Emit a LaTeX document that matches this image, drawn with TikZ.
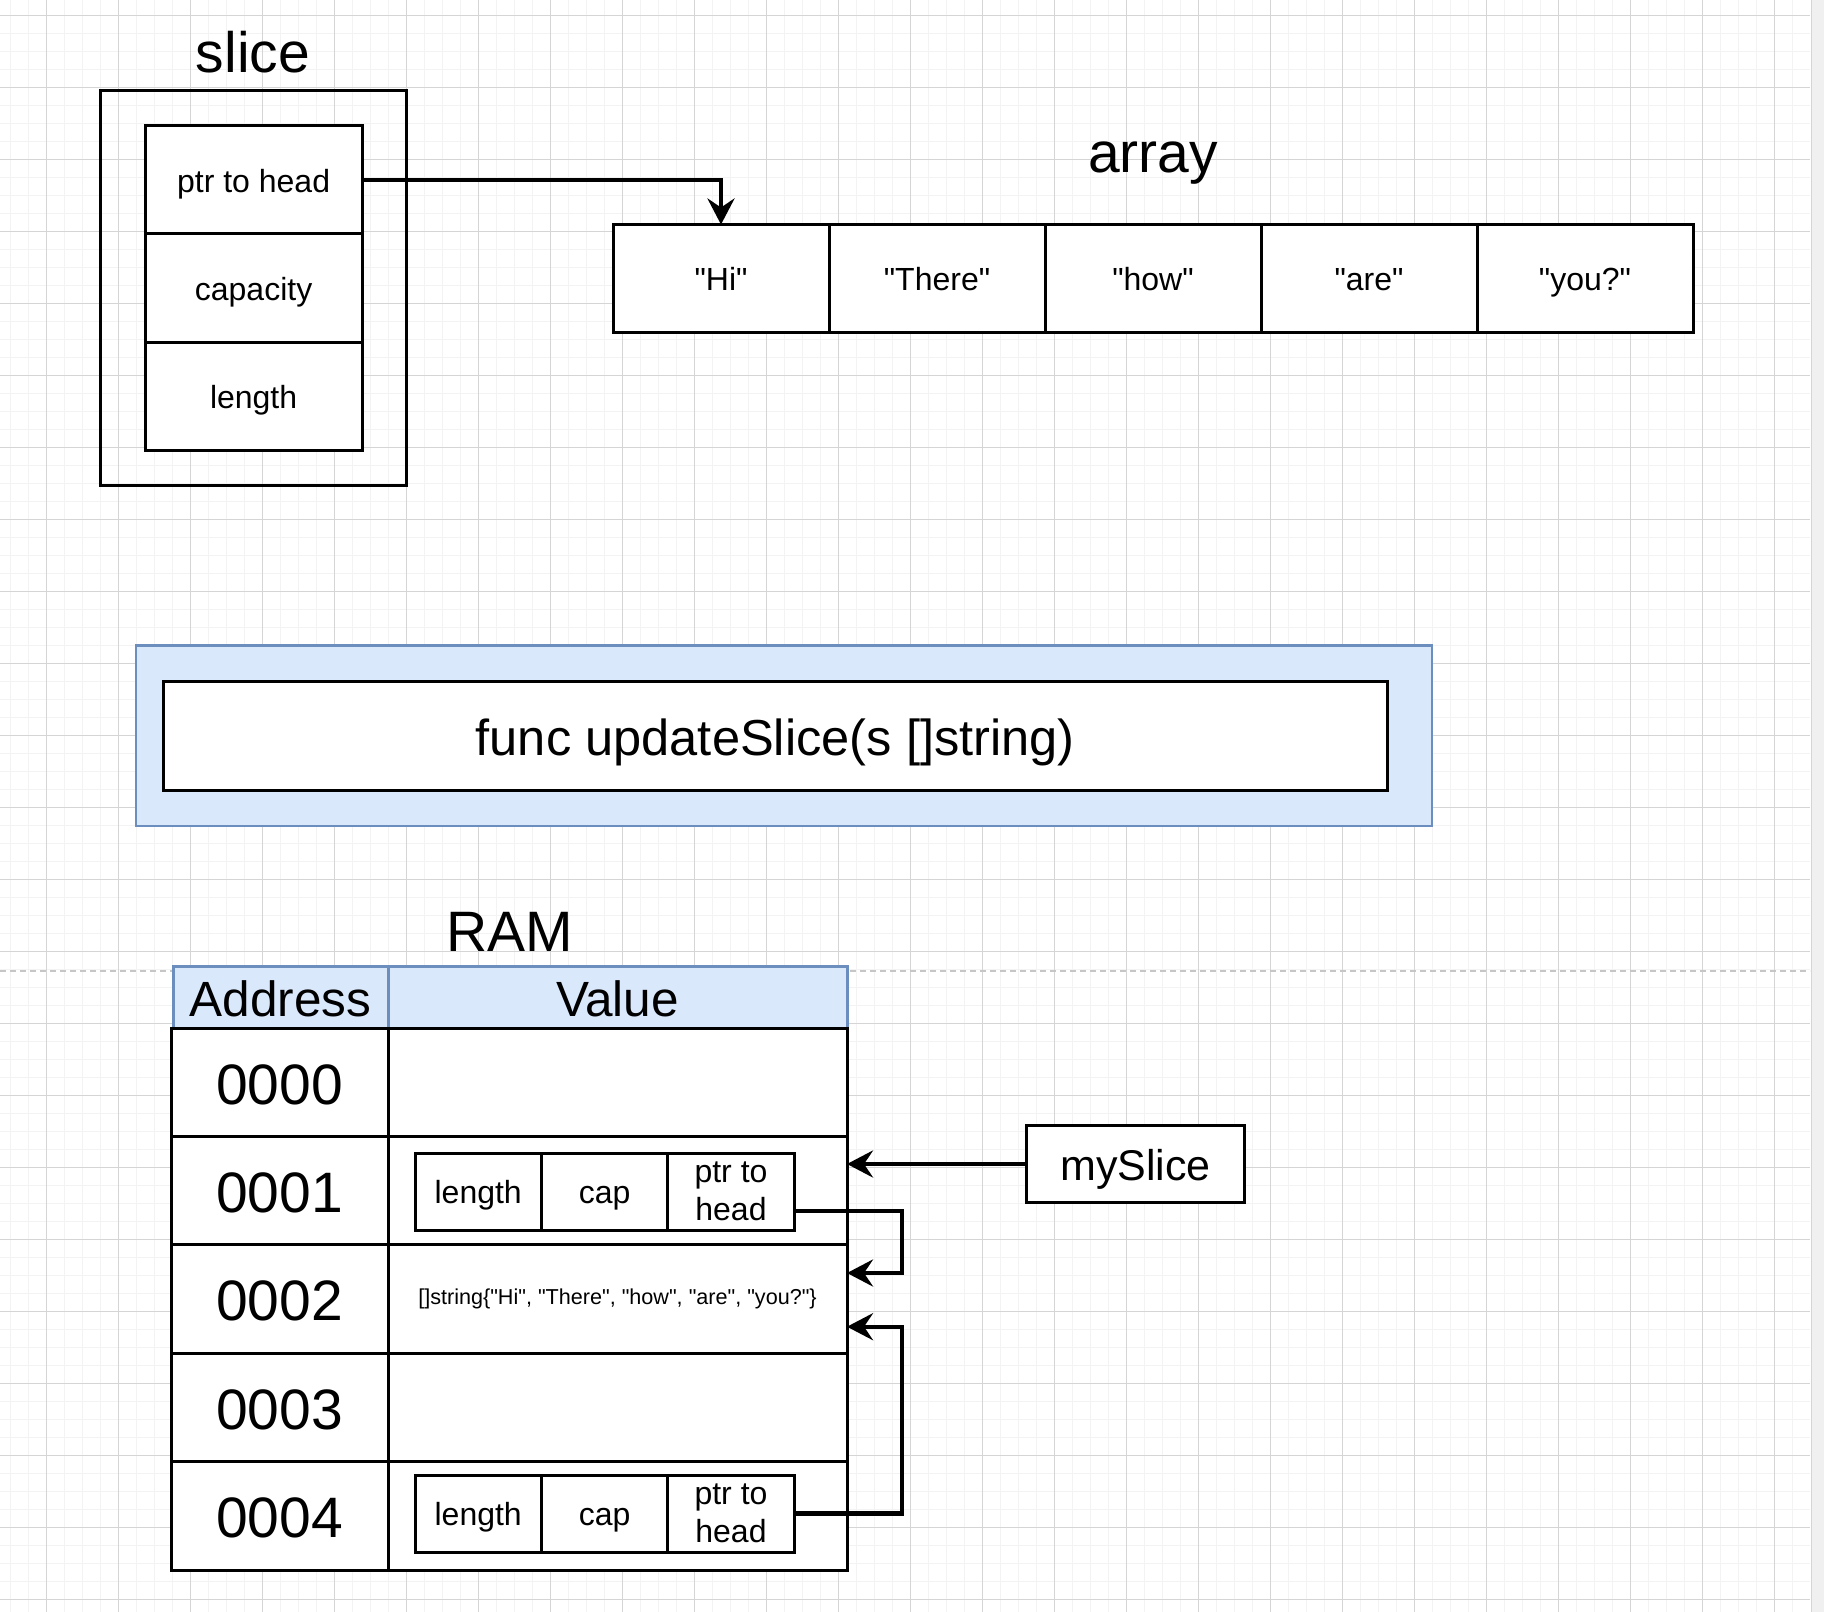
\documentclass[tikz,border=0pt]{standalone}
\usepackage{fontspec}
\setmainfont{Liberation Sans}[Ligatures=TeXOff]
\usetikzlibrary{arrows.meta,positioning,fit}

\definecolor{blueFill}{HTML}{DAE8FC}
\definecolor{blueLine}{HTML}{6C8EBF}
\definecolor{gridMajor}{HTML}{D5D5D5}
\definecolor{gridMinor}{HTML}{F3F3F3}
\definecolor{breakLine}{HTML}{C6C6C6}
\definecolor{stripGray}{HTML}{F0F0F0}

\tikzset{
	box/.style={draw, line width=3pt, fill=white, outer sep=0pt, inner sep=0pt},
	title/.style={anchor=base, font=\fontsize{57}{68}\selectfont},
	cell/.style={box, font=\fontsize{32}{38.4}\selectfont, text height=24.6pt, text depth=0pt},
	arr/.style={cell, minimum width=216pt, minimum height=108pt},
	slot/.style={cell, minimum width=217pt, minimum height=108.2pt},
	part/.style={cell, minimum width=126.4pt, minimum height=77pt},
	ptrpart/.style={box, font=\fontsize{32}{38.4}\selectfont, align=center, minimum width=126.4pt, minimum height=77pt},
	head/.style={box, draw=blueLine, fill=blueFill, font=\fontsize{49.5}{59}\selectfont, text height=38pt, text depth=0pt, minimum height=62pt},
	addr/.style={box, font=\fontsize{57}{68}\selectfont, text height=43.9pt, text depth=0pt, minimum width=217pt, minimum height=108.4pt},
	val/.style={box, minimum width=459pt, minimum height=108.4pt},
	link/.style={line width=4.3pt, -{Stealth[length=26pt, width=27pt, inset=9pt]}}
}

\begin{document}
\begin{tikzpicture}[x=1pt,y=-1pt]
	\useasboundingbox (0,0) rectangle (1824,1612);
	\fill[white] (0,0) rectangle (1824,1612);
	\foreach \x in {10.3,28.3,...,1810} \draw[gridMinor, line width=1.6pt] (\x,0) -- (\x,1612);
	\foreach \y in {-2.7,15.3,...,1620} \draw[gridMinor, line width=1.6pt] (0,\y) -- (1810,\y);
	\foreach \x in {46.3,118.3,...,1810} \draw[gridMajor, line width=1pt] (\x,0) -- (\x,1612);
	\foreach \y in {15.3,87.3,...,1620} \draw[gridMajor, line width=1pt] (0,\y) -- (1810,\y);
	\fill[stripGray] (1811,0) rectangle (1824,1612);
	\draw[gridMajor, line width=1pt] (1811,0) -- (1811,1612);
	\draw[breakLine, line width=1.5pt, dash pattern=on 6pt off 4pt] (0,971) -- (1810,971);

	\node[title] (sliceT) at (253,72) {slice};
	\node[slot] (ptr) at (253.6,179.7) {ptr to head};
	\node[slot, below=0pt of ptr] (cap) {capacity};
	\node[slot, below=0pt of cap] (len) {length};
	\node[draw, line width=3pt, inner xsep=44.5pt, inner ysep=35.5pt, fit=(ptr)(len)] (sliceBox) {};

	\node[title] (arrayT) at (1153,172) {array};
	\node[arr] (hi) at (721,278.5) {"Hi"};
	\node[arr, right=0pt of hi] (there) {"There"};
	\node[arr, right=0pt of there] (how) {"how"};
	\node[arr, right=0pt of how] (are) {"are"};
	\node[arr, right=0pt of are] (you) {"you?"};

	\draw[link] (ptr.east) -| (hi.north);

	\node[box, draw=blueLine, fill=blueFill, line width=2.5pt, minimum width=1296pt, minimum height=180.5pt] (funcBox) at (784,735.8) {};
	\node[box, font=\fontsize{50.6}{61}\selectfont, text height=39pt, text depth=0pt, minimum width=1224.5pt, minimum height=108.5pt] (func) at (775.3,735.8) {func updateSlice(s []string)};

	\node[title] (ramT) at (510,951) {RAM};
	\node[head, minimum width=215pt] (hAddr) at (280.5,997) {Address};
	\node[head, minimum width=459pt, right=0pt of hAddr] (hVal) {Value};

	\node[addr] (a0) at (279.5,1082.2) {0000};
	\node[addr, below=0pt of a0] (a1) {0001};
	\node[addr, below=0pt of a1] (a2) {0002};
	\node[addr, below=0pt of a2] (a3) {0003};
	\node[addr, below=0pt of a3] (a4) {0004};
	\node[val, right=0pt of a0] (v0) {};
	\node[val, right=0pt of a1] (v1) {};
	\node[val, right=0pt of a2, font=\fontsize{21.6}{26}\selectfont] (v2) {[]string\{"Hi", "There", "how", "are", "you?"\}};
	\node[val, right=0pt of a3] (v3) {};
	\node[val, right=0pt of a4] (v4) {};

	\node[part] (len1) at (478.2,1191.5) {length};
	\node[part, right=0pt of len1] (cap1) {cap};
	\node[ptrpart, right=0pt of cap1] (ptr1) {ptr to\\head};
	\node[part] (len4) at (478.2,1513.5) {length};
	\node[part, right=0pt of len4] (cap4) {cap};
	\node[ptrpart, right=0pt of cap4] (ptr4) {ptr to\\head};

	\node[box, font=\fontsize{43}{51}\selectfont, text height=33pt, text depth=0pt, minimum width=217.6pt, minimum height=77pt] (mySlice) at (1135.5,1164) {mySlice};

	\draw[link] (mySlice.west) -- (mySlice.west -| v1.east);
	\draw[link] ([yshift=-19.5pt]ptr1.east) -- ++(108,0) |- ([yshift=26pt]v2.east);
	\draw[link] (ptr4.east) -- ++(108,0) |- ([yshift=-27.7pt]v2.east);
\end{tikzpicture}
\end{document}
